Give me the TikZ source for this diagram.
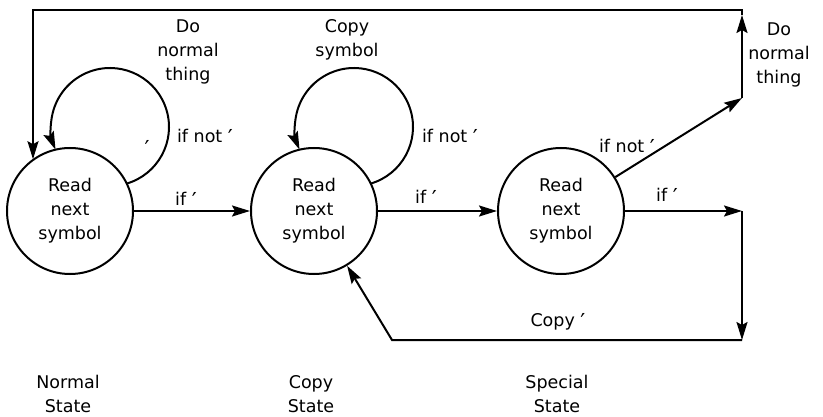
\documentclass[tikz,border=0pt]{standalone}
\usepackage{fontspec}
\setmainfont{DejaVu Sans}
\usetikzlibrary{arrows.meta}
% a taller prime mark, set on the text's cap line
\newcommand{\prm}{\raisebox{-3pt}{\fontsize{22}{24}\selectfont ′}}

\begin{document}
\begin{tikzpicture}[x=1pt,y=1pt,
  line width=2pt,
  arr/.style={-{Stealth[length=18pt,width=11pt,inset=3pt]}},
  statebox/.style={circle,draw,line width=2pt,minimum size=126pt,inner sep=0pt,
    align=center,font=\fontsize{17.5}{24}\selectfont},
  lbl/.style={align=center,inner sep=0pt,font=\fontsize{17.5}{24}\selectfont}]
\useasboundingbox (0,0) rectangle (823,-417);

% the three states
\node[statebox] (c1) at (70,-211)  {Read\\next\\symbol};
\node[statebox] (c2) at (314,-211) {Read\\next\\symbol};
\node[statebox] (c3) at (561,-211) {Read\\next\\symbol};

% corner points of the return paths
\coordinate (tl)  at (33,-10);
\coordinate (tr)  at (742,-10);
\coordinate (up)  at (742,-15);
\coordinate (ru)  at (742,-98);
\coordinate (rm)  at (742,-211);
\coordinate (rb)  at (742,-340);
\coordinate (bl)  at (392,-340);

% self loops
\coordinate (l1) at (110,-127);
\coordinate (l2) at (354,-127);
\draw[arr] ([shift={(-73.5:59pt)}]l1) arc[start angle=-73.5,end angle=202.6,radius=59pt];
\draw[arr] ([shift={(-73.5:59pt)}]l2) arc[start angle=-73.5,end angle=202.6,radius=59pt];

% forward transitions
\draw[arr] (c1) -- (c2);
\draw[arr] (c2) -- (c3);
\draw[arr] (c3) -- (rm);

% "if not" from the special state back to the normal state
\draw[arr] (c3) -- (ru);
\draw[arr] (ru) -- (up);
\draw[arr] (up) -- (tr) -- (tl) -- (tl |- c1.126);

% "Copy" back to the copy state
\draw[arr] (rm) -- (rb);
\draw[arr] (rb) -- (bl) -- (c2);

% labels
\node[lbl] (t1) at (188,-52) {Do\\normal\\thing};
\node[lbl] (t2) at (205,-137) {if not \prm};
\node[lbl] (t3) at (147,-148) {\prm};
\node[lbl] (t4) at (186,-200) {if \prm};
\node[lbl] (t5) at (347,-40) {Copy\\symbol};
\node[lbl] (t6) at (450,-137) {if not \prm};
\node[lbl] (t7) at (426,-198) {if \prm};
\node[lbl] (t8) at (627,-147) {if not \prm};
\node[lbl] (t9) at (779,-55) {Do\\normal\\thing};
\node[lbl] (t10) at (667,-196) {if \prm};
\node[lbl] (t11) at (558,-322) {Copy \prm};
\node[lbl] (t12) at (68,-394) {Normal\\State};
\node[lbl] (t13) at (311,-394) {Copy\\State};
\node[lbl] (t14) at (557,-394) {Special\\State};
\end{tikzpicture}
\end{document}
